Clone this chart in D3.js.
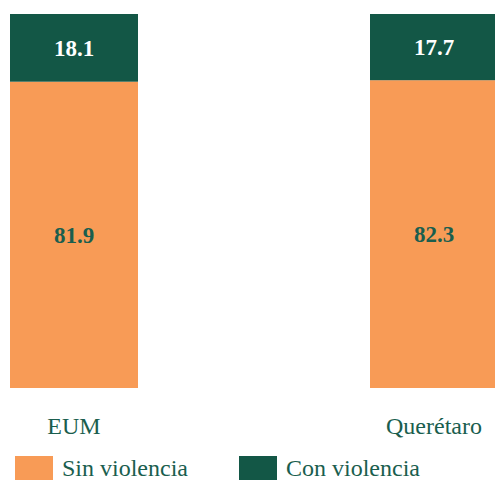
<!DOCTYPE html>
<html>
<head>
<meta charset="utf-8">
<script src="https://cdn.jsdelivr.net/npm/d3@7"></script>
<style>
  html, body { margin: 0; padding: 0; background: #fff; overflow: hidden; }
  svg { display: block; }
  svg text { font-family: "Liberation Serif", "Times New Roman", "DejaVu Serif", serif; }
</style>
</head>
<body>
<svg id="chart" width="495" height="480"></svg>
<script>
// Categories and stacked shares (percent)
const categories = ["EUM", "Querétaro"];
const sinViolencia = [81.9, 82.3];
const conViolencia = [18.1, 17.7];
const seriesNames = ["Sin violencia", "Con violencia"];

const colors = { sin: "#F89B56", con: "#135746" };
const textColor = "#1A5E4E";

const svg = d3.select("#chart");

const x = d3.scaleBand()
  .domain(categories)
  .range([10, 498])
  .paddingInner(232 / 360)
  .paddingOuter(0);

const y = d3.scaleLinear().domain([0, 100]).range([388, 14]);

const rows = categories.map((c, i) => ({ cat: c, sin: sinViolencia[i], con: conViolencia[i] }));
const stack = d3.stack().keys(["sin", "con"])(rows);

const g = svg.append("g");

stack.forEach(layer => {
  const key = layer.key;
  g.selectAll(null)
    .data(layer)
    .enter()
    .append("rect")
    .attr("x", d => x(d.data.cat))
    .attr("width", x.bandwidth())
    .attr("y", d => y(d[1]))
    .attr("height", d => y(d[0]) - y(d[1]))
    .attr("fill", colors[key]);

  g.selectAll(null)
    .data(layer)
    .enter()
    .append("text")
    .attr("x", d => x(d.data.cat) + x.bandwidth() / 2)
    .attr("y", d => (y(d[0]) + y(d[1])) / 2)
    .attr("dy", "0.35em")
    .attr("text-anchor", "middle")
    .attr("font-weight", "bold")
    .attr("font-size", 23)
    .attr("fill", key === "con" ? "#ffffff" : textColor)
    .text(d => d.data[key].toFixed(1));
});

// Category axis labels
const xAxis = d3.axisBottom(x).tickSize(0).tickPadding(0);
const axisG = svg.append("g")
  .attr("transform", "translate(0,417)")
  .call(xAxis)
  .attr("font-family", null);
axisG.select(".domain").remove();
axisG.selectAll("text")
  .attr("font-size", 24)
  .attr("fill", textColor)
  .attr("dy", "0.71em");

// Legend
const legendItems = [
  { name: seriesNames[0], color: colors.sin, x: 15 },
  { name: seriesNames[1], color: colors.con, x: 239 }
];
const legend = svg.append("g");
legendItems.forEach(item => {
  legend.append("rect")
    .attr("x", item.x)
    .attr("y", 456)
    .attr("width", 38)
    .attr("height", 24)
    .attr("fill", item.color);
  legend.append("text")
    .attr("x", item.x + 47)
    .attr("y", 476)
    .attr("font-size", 24)
    .attr("fill", textColor)
    .text(item.name);
});
</script>
</body>
</html>
